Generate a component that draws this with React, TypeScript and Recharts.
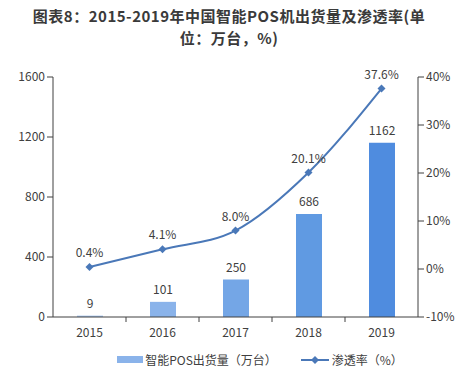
import {
  ComposedChart,
  Bar,
  Line,
  XAxis,
  YAxis,
  Legend,
  LabelList,
  Cell,
} from "recharts";

const years = ["2015", "2016", "2017", "2018", "2019"];
const shipments = [9, 101, 250, 686, 1162];
const penetration = [0.4, 4.1, 8.0, 20.1, 37.6];
const leftTicks = [0, 400, 800, 1200, 1600];
const rightTicks = [-10, 0, 10, 20, 30, 40];
const barColors = ["#a2c1ec", "#8ab3ea", "#74a6e6", "#609ae2", "#4f8cdf"];

const data = years.map((year, i) => ({
  year,
  shipments: shipments[i],
  penetration: penetration[i],
}));

const FONT = "'Noto Sans CJK SC', 'Noto Sans', sans-serif";
const AXIS = "#404040";
const LINE = "#4a78b8";

const XTick = (props: any) => {
  const { x, y, payload, index, width, visibleTicksCount } = props;
  const band = width / visibleTicksCount;
  const top = y - 8;
  return (
    <g>
      <text x={x} y={y + 12} textAnchor="middle" fontSize={12} fill="#404040" fontFamily={FONT}>
        {payload.value}
      </text>
      {index > 0 && <line x1={x - band / 2} x2={x - band / 2} y1={top} y2={top + 5} stroke={AXIS} />}
    </g>
  );
};

const Diamond = (props: any) => {
  const { cx, cy, index } = props;
  if (cx == null || cy == null) return <g key={index} />;
  const r = 4;
  return (
    <path
      key={index}
      d={`M${cx},${cy - r}L${cx + r},${cy}L${cx},${cy + r}L${cx - r},${cy}Z`}
      fill={LINE}
    />
  );
};

const LegendContent = () => (
  <div
    style={{
      display: "flex",
      justifyContent: "center",
      alignItems: "center",
      fontFamily: FONT,
      fontSize: 12,
      color: "#404040",
      paddingLeft: 62,
      paddingTop: 10,
    }}
  >
    <span style={{ display: "inline-block", width: 26, height: 7, background: barColors[1], marginRight: 2 }} />
    <span style={{ marginRight: 24 }}>智能POS出货量（万台）</span>
    <svg width={28} height={10} style={{ marginRight: 3 }}>
      <line x1={0} x2={28} y1={5} y2={5} stroke={LINE} strokeWidth={2} />
      <path d="M14,1L18,5L14,9L10,5Z" fill={LINE} />
    </svg>
    <span>渗透率（%）</span>
  </div>
);

const titleStyle: any = {
  position: "absolute",
  left: 0,
  width: 458,
  textAlign: "center",
  fontFamily: FONT,
  fontWeight: 700,
  fontSize: 15,
  letterSpacing: 0.5,
  lineHeight: "20px",
  color: "#3a3a3a",
  whiteSpace: "nowrap",
};

export default function App() {
  return (
    <div style={{ position: "absolute", left: 0, top: 0, width: 458, height: 371, background: "#fff" }}>
      <div style={{ ...titleStyle, top: 6 }}>图表8：2015-2019年中国智能POS机出货量及渗透率(单</div>
      <div style={{ ...titleStyle, top: 28 }}>位：万台，%)</div>
      <ComposedChart
        width={458}
        height={371}
        data={data}
        margin={{ top: 77, right: 0, left: 0, bottom: 0 }}
      >
        <XAxis
          dataKey="year"
          height={24}
          axisLine={{ stroke: AXIS }}
          tickLine={false}
          tick={<XTick />}
          interval={0}
        />
        <YAxis
          yAxisId="left"
          width={53}
          domain={[0, 1600]}
          ticks={leftTicks}
          axisLine={{ stroke: AXIS }}
          tickLine={{ stroke: AXIS }}
          tickSize={6}
          tick={{ fontSize: 12, fill: "#404040", fontFamily: FONT }}
          interval={0}
        />
        <YAxis
          yAxisId="right"
          orientation="right"
          width={40}
          domain={[-10, 40]}
          ticks={rightTicks}
          tickFormatter={(v: number) => `${v}%`}
          axisLine={{ stroke: AXIS }}
          tickLine={{ stroke: AXIS }}
          tickSize={6}
          tick={{ fontSize: 12, fill: "#404040", fontFamily: FONT }}
          interval={0}
        />
        <Legend verticalAlign="bottom" height={30} content={<LegendContent />} />
        <Bar yAxisId="left" dataKey="shipments" barSize={26} isAnimationActive={false}>
          {data.map((d, i) => (
            <Cell key={d.year} fill={barColors[i]} />
          ))}
          <LabelList
            dataKey="shipments"
            position="top"
            offset={8}
            style={{ fontSize: 12, fill: "#404040", fontFamily: FONT }}
          />
        </Bar>
        <Line
          yAxisId="right"
          type="monotone"
          dataKey="penetration"
          stroke={LINE}
          strokeWidth={2}
          dot={<Diamond />}
          activeDot={false}
          isAnimationActive={false}
        >
          <LabelList
            dataKey="penetration"
            position="top"
            offset={10}
            formatter={(v: any) => `${Number(v).toFixed(1)}%`}
            style={{ fontSize: 12, fill: "#404040", fontFamily: FONT }}
          />
        </Line>
      </ComposedChart>
    </div>
  );
}
